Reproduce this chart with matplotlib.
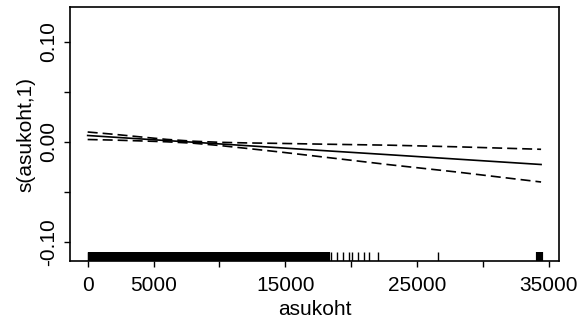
import matplotlib.pyplot as plt

# fitted term s(asukoht,1) and its +/- 2 se band
x_fit = [0, 2000, 4000, 6000, 8000, 10000, 12000, 14600, 18000, 22950, 28000, 34400]
s_fit = [0.0065, 0.0048, 0.0031, 0.0014, -0.0002, -0.0019, -0.0036, -0.0058,
         -0.0087, -0.0128, -0.0171, -0.0225]
s_upper = [0.0100, 0.0077, 0.0051, 0.0026, 0.0008, -0.0003, -0.0009, -0.0014,
           -0.0022, -0.0032, -0.0048, -0.0073]
s_lower = [0.0025, 0.0019, 0.0011, 0.0002, -0.0012, -0.0035, -0.0063, -0.0100,
           -0.0152, -0.0228, -0.0300, -0.0400]

# rug of observed asukoht values
rug_dense = [150, 420, 700, 980, 1250, 1530, 1800, 2100, 2380, 2650, 2940, 3200,
             3500, 3780, 4050, 4330, 4600, 4900, 5170, 5450, 5720, 6000, 6300,
             6580, 6850, 7130, 7400, 7700, 7980, 8250, 8530, 8800, 9100, 9380,
             9650, 9930, 10200, 10500, 10780, 11050, 11330, 11600, 11900, 12180,
             12450, 12730, 13000, 13300, 13580, 13850, 14130, 14400, 14700,
             14980, 15250, 15530, 15800, 16100, 16380, 16650, 16930, 17200,
             17500, 17780, 18050, 18200, 34180, 34360]
rug_sparse = [0, 18440, 18890, 19390, 19850, 20030, 20530, 20960, 21370, 22000, 26600]

x_ticks = [0, 5000, 10000, 15000, 20000, 25000, 30000, 35000]
x_labels = ['0', '5000', '', '15000', '', '25000', '', '35000']
y_ticks = [-0.10, -0.05, 0.0, 0.05, 0.10]
y_labels = ['-0.10', '', '0.00', '', '0.10']

plt.rcParams['font.family'] = ['Liberation Sans', 'DejaVu Sans']

fig = plt.figure(figsize=(5.8, 3.24), dpi=100)
ax = fig.add_axes([70 / 580, 1 - 261 / 324, 489 / 580, 254 / 324])

ax.plot(x_fit, s_fit, color='black', lw=1.2)
ax.plot(x_fit, s_upper, color='black', lw=1.2, dashes=(6, 3))
ax.plot(x_fit, s_lower, color='black', lw=1.2, dashes=(6, 3))

tr = ax.get_xaxis_transform()
ax.vlines(rug_dense, 0, 0.035, transform=tr, color='black', lw=3.0, capstyle='butt')
ax.vlines(rug_sparse, 0, 0.035, transform=tr, color='black', lw=1.0, capstyle='butt')

ax.set_xlim(-1340, 35760)
ax.set_ylim(-0.119, 0.135)

ax.set_xticks(x_ticks)
ax.set_xticklabels(x_labels, fontsize=15)
ax.set_yticks(y_ticks)
ax.set_yticklabels(y_labels, fontsize=15, rotation=90, va='center')
ax.tick_params(axis='x', direction='out', length=4.5, width=1.0, color='black', pad=6)
ax.tick_params(axis='y', direction='out', length=4.5, width=1.0, color='black', pad=4)

ax.set_xlabel('asukoht', fontsize=15, labelpad=4)
ax.set_ylabel('s(asukoht,1)', fontsize=15, labelpad=3)

for sp in ax.spines.values():
    sp.set_linewidth(1.2)

plt.savefig('out.png', dpi=100)
